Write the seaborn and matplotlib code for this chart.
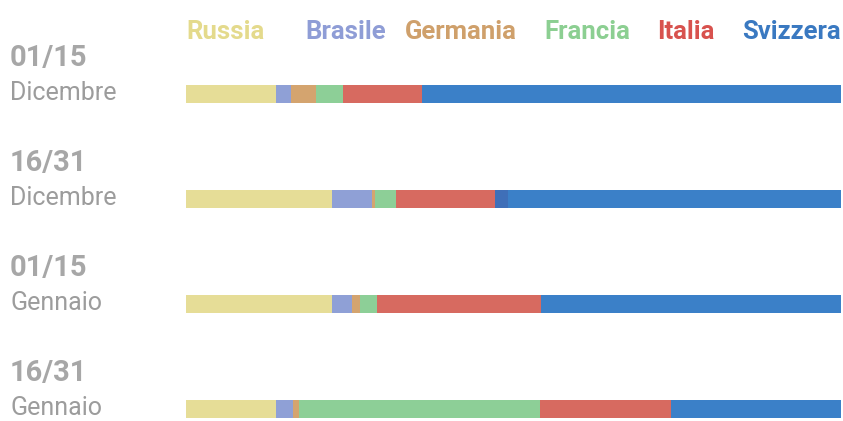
import matplotlib
matplotlib.use("Agg")
import matplotlib.pyplot as plt
import seaborn as sns
import numpy as np
import pandas as pd

# Periods (two-line labels) and share of each country, in percent
periods = ["01/15", "16/31", "01/15", "16/31"]
months = ["Dicembre", "Dicembre", "Gennaio", "Gennaio"]

countries = ["Russia", "Brasile", "Germania", "Francia", "Italia", "Altro", "Svizzera"]
russia = [13.7, 22.3, 22.3, 13.7]
brasile = [2.4, 6.1, 3.1, 2.6]
germania = [3.8, 0.5, 1.1, 0.9]
francia = [4.0, 3.2, 2.7, 36.8]
italia = [12.2, 15.1, 25.0, 20.0]
altro = [0.0, 2.0, 0.0, 0.0]
svizzera = [63.9, 50.8, 45.8, 26.0]

bar_colors = ["#e6dd97", "#8fa0d6", "#d4a46f", "#8dcf97", "#d76a60", "#3f6fb8", "#3b80c8"]
text_colors = ["#e4da8c", "#8f9dd6", "#cfa06b", "#8ccf92", "#d8524e", None, "#3a79c1"]

sns.set_theme(style="white")
plt.rcParams["font.family"] = ["Roboto", "DejaVu Sans"]

W, H = 843, 421
fig = plt.figure(figsize=(W / 100, H / 100), dpi=100)

# Axes covering the bar area: 105 px per row, first row centred at y=94 px
row_px = 105
y0_px = 94
ylim_top, ylim_bot = -0.5, 3.1
ax_h = (ylim_bot - ylim_top) * row_px
ax_top_px = y0_px - (0 - ylim_top) * row_px
left_px, right_px = 186, 841
ax = fig.add_axes([left_px / W, 1 - (ax_top_px + ax_h) / H,
                   (right_px - left_px) / W, ax_h / H])

rows = [f"r{i}" for i in range(len(periods))]
series = [russia, brasile, germania, francia, italia, altro, svizzera]
df = pd.DataFrame({c: v for c, v in zip(countries, series)}, index=rows)
cum = df.cumsum(axis=1)

# Stacked bars: draw cumulative totals from the last series back to the first
for c, col in reversed(list(zip(countries, bar_colors))):
    sns.barplot(x=cum[c].values, y=rows, order=rows, orient="h",
                color=col, width=0.17, linewidth=0, saturation=1, ax=ax)

ax.set_xlim(0, cum.iloc[:, -1].max())
ax.set_ylim(ylim_bot, ylim_top)
ax.axis("off")

# Legend as coloured words along the top
legend_x = [186, 305, 405, 544, 657, 841]
shown = [(c, t) for c, t in zip(countries, text_colors) if t is not None]
for k, ((name, tc), x) in enumerate(zip(shown, legend_x)):
    fig.text(x / W, 1 - 39 / H, name, color=tc, fontsize=18.5,
             fontweight="bold", ha="right" if k == len(shown) - 1 else "left",
             va="baseline")

# Period labels on the left
for i, (p, m) in enumerate(zip(periods, months)):
    fig.text(10 / W, 1 - (66 + i * row_px) / H, p, color="#a7a7a7",
             fontsize=21, fontweight="bold", ha="left", va="baseline")
    fig.text(10 / W, 1 - (100 + i * row_px) / H, m, color="#9c9c9c",
             fontsize=18, ha="left", va="baseline")

fig.savefig("out.png", dpi=100, facecolor="white")
